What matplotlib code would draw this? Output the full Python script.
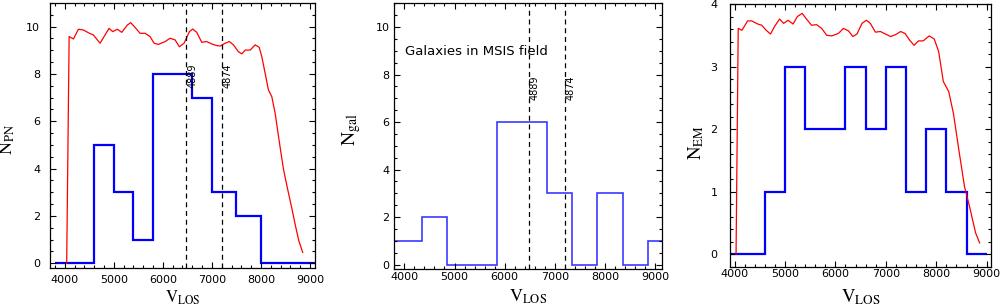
import numpy as np
import matplotlib
matplotlib.use("Agg")
import matplotlib.pyplot as plt
from matplotlib.ticker import MultipleLocator

plt.rcParams['mathtext.fontset'] = 'stix'
plt.rcParams['font.family'] = ['DejaVu Sans']

# ---------------- data ----------------
# Panel 1: PN histogram
pn_edges = [3800, 4600, 5000, 5400, 5800, 6600, 7000, 7500, 8000, 9200]
pn_counts = [0, 5, 3, 1, 8, 7, 3, 2, 0]

# Red completeness curve, panel 1
pn_curve_v = [4040, 4090, 4177, 4279, 4380, 4503, 4584, 4720, 4822, 4904, 4978,
              5073, 5162, 5277, 5345, 5420, 5535, 5637, 5739, 5821, 5909, 6045,
              6147, 6249, 6337, 6432, 6541, 6609, 6690, 6792, 6894, 6996, 7098,
              7166, 7268, 7356, 7438, 7540, 7609, 7677, 7779, 7880, 7962, 8016,
              8084, 8152, 8220, 8288, 8340, 8400, 8460, 8530, 8630, 8700, 8770, 8850]
pn_curve_n = [0.0, 9.58, 9.48, 9.89, 9.86, 9.72, 9.65, 9.30, 9.65, 9.93, 9.79,
              9.89, 9.76, 10.07, 10.17, 10.0, 9.72, 9.72, 9.58, 9.30, 9.25, 9.37,
              9.51, 9.44, 9.15, 9.30, 9.79, 9.90, 9.76, 9.34, 9.37, 9.27, 9.20,
              9.18, 9.30, 9.37, 9.23, 8.94, 8.85, 9.01, 9.01, 9.23, 9.13, 8.73,
              8.03, 7.32, 7.04, 6.34, 5.60, 4.75, 3.95, 3.25, 2.30, 1.60, 0.95, 0.46]

# Panel 2: galaxies histogram
gal_edges = [3350, 4350, 4850, 5350, 5850, 6350, 6850, 7350, 7850, 8350, 8850, 9350]
gal_counts = [1, 2, 0, 0, 6, 6, 3, 0, 3, 0, 1]

# Panel 3: EM histogram
em_edges = [3800, 4200, 4600, 5000, 5400, 5800, 6200, 6600, 7000, 7400, 7800,
            8200, 8600, 9000]
em_counts = [0, 0, 1, 3, 2, 2, 3, 2, 3, 1, 2, 1, 0]

em_curve_v = [4030, 4073, 4147, 4260, 4340, 4460, 4540, 4627, 4713, 4793, 4893,
              4973, 5060, 5160, 5247, 5340, 5427, 5527, 5627, 5727, 5827, 5927,
              6060, 6160, 6260, 6347, 6427, 6527, 6613, 6693, 6793, 6893, 6993,
              7093, 7193, 7293, 7380, 7473, 7560, 7647, 7740, 7860, 7960, 8047,
              8140, 8247, 8340, 8447, 8560, 8660, 8780, 8860]
em_curve_n = [0.0, 3.61, 3.58, 3.73, 3.73, 3.68, 3.66, 3.58, 3.52, 3.64, 3.76,
              3.69, 3.74, 3.68, 3.80, 3.85, 3.76, 3.66, 3.67, 3.61, 3.50, 3.49,
              3.53, 3.61, 3.57, 3.48, 3.52, 3.69, 3.74, 3.69, 3.55, 3.56, 3.52,
              3.48, 3.51, 3.56, 3.53, 3.42, 3.34, 3.41, 3.41, 3.49, 3.44, 3.24,
              2.76, 2.60, 2.25, 1.67, 1.08, 0.76, 0.34, 0.18]

# Galaxy velocities (NGC 4889, NGC 4874)
gal_names = ['4889', '4874']
gal_v = [6480, 7205]

# ---------------- figure ----------------
W, H = 1001, 308
fig = plt.figure(figsize=(W / 100, H / 100), dpi=100)


def px_axes(l, t, r, b):
    return fig.add_axes([l / W, 1 - b / H, (r - l) / W, (b - t) / H])


def style(ax, ymaj, ymin, ypad, xpad):
    ax.xaxis.set_major_locator(MultipleLocator(1000))
    ax.xaxis.set_minor_locator(MultipleLocator(200))
    ax.yaxis.set_major_locator(MultipleLocator(ymaj))
    ax.yaxis.set_minor_locator(MultipleLocator(ymin))
    ax.tick_params(which='both', direction='in', top=True, right=True,
                   labelsize=8, width=0.8)
    ax.tick_params(which='major', length=4.5)
    ax.tick_params(which='minor', length=2.3)
    ax.tick_params(axis='y', pad=ypad)
    ax.tick_params(axis='x', pad=xpad)
    for s in ax.spines.values():
        s.set_linewidth(0.9)


def ftext(x, y, s, **kw):
    fig.text(x / W, 1 - y / H, s, ha='center', va='center', **kw)


# Panel 1
ax1 = px_axes(50, 3, 315, 268)
ax1.set_xlim(3700, 9100)
ax1.set_ylim(-0.2, 11)
ax1.stairs(pn_counts, pn_edges, baseline=None, color='#0000ff', lw=1.6)
ax1.plot(pn_curve_v, pn_curve_n, color='#ff0000', lw=0.9)
for name, v in zip(gal_names, gal_v):
    ax1.axvline(v, color='black', ls=(0, (4, 3)), lw=0.9)
    ax1.text(v + 15, 8.45, name, rotation=90, ha='left', va='top', fontsize=7)
style(ax1, 2, 0.5, 7, 5)

# Panel 2
ax2 = px_axes(394.3, 3.3, 661.7, 269.3)
ax2.set_xlim(3800, 9130)
ax2.set_ylim(-0.2, 11)
ax2.stairs(gal_counts, gal_edges, baseline=None, color='#3a3aff', lw=1.2)
for name, v in zip(gal_names, gal_v):
    ax2.axvline(v, color='black', ls=(0, (4, 3)), lw=0.9)
    ax2.text(v + 15, 7.97, name, rotation=90, ha='left', va='top', fontsize=7)
ax2.text(4005, 8.95, 'Galaxies in MSIS field', ha='left', va='center',
         fontsize=9.5)
style(ax2, 2, 0.5, 3.5, 2)

# Panel 3
ax3 = px_axes(730, 4, 991.5, 266.7)
ax3.set_xlim(3910, 9095)
ax3.set_ylim(-0.2, 4)
ax3.stairs(em_counts, em_edges, baseline=None, color='#0000ff', lw=1.6)
ax3.plot(em_curve_v, em_curve_n, color='#ff0000', lw=0.9)
style(ax3, 1, 0.2, 9, 2)

# Axis labels
ftext(8, 139, r'$\mathrm{N}_{\mathrm{PN}}$', rotation=90, fontsize=13)
ftext(183, 298, r'$\mathrm{V}_{\mathrm{LOS}}$', fontsize=12)
ftext(352, 130, r'$\mathrm{N}_{\mathrm{gal}}$', rotation=90, fontsize=14)
ftext(528, 297, r'$\mathrm{V}_{\mathrm{LOS}}$', fontsize=13)
ftext(696, 142, r'$\mathrm{N}_{\mathrm{EM}}$', rotation=90, fontsize=13.5)
ftext(861, 297, r'$\mathrm{V}_{\mathrm{LOS}}$', fontsize=13.5)

fig.savefig('out.png', dpi=100)
